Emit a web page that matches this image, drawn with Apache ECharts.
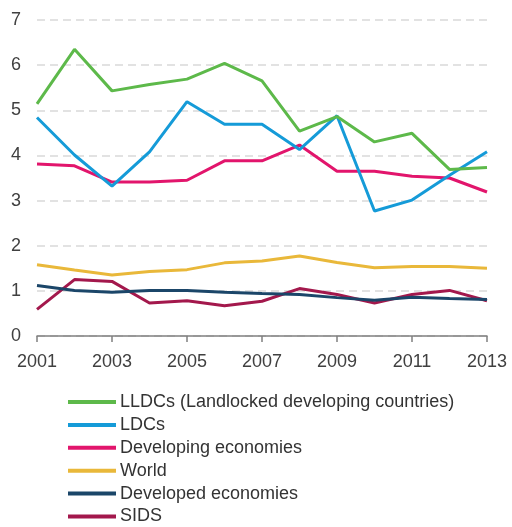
<!DOCTYPE html>
<html>
<head>
<meta charset="utf-8">
<script src="https://cdn.jsdelivr.net/npm/echarts@6/dist/echarts.min.js"></script>
<style>
  html, body { margin: 0; padding: 0; background: #fff; }
  #chart { width: 512px; height: 527px; }
</style>
</head>
<body>
<div id="chart"></div>
<script>
// Years on the horizontal axis
const years = ['2001','2002','2003','2004','2005','2006','2007','2008','2009','2010','2011','2012','2013'];

// Series values per year
const lldcs      = [5.14, 6.35, 5.43, 5.57, 5.69, 6.04, 5.65, 4.54, 4.86, 4.30, 4.49, 3.69, 3.73];
const ldcs       = [4.84, 4.01, 3.32, 4.08, 5.19, 4.69, 4.69, 4.13, 4.88, 2.77, 3.01, 3.56, 4.08];
const developing = [3.81, 3.77, 3.41, 3.41, 3.45, 3.88, 3.88, 4.23, 3.65, 3.65, 3.54, 3.50, 3.19];
const world      = [1.58, 1.46, 1.35, 1.43, 1.47, 1.62, 1.66, 1.77, 1.63, 1.51, 1.54, 1.54, 1.50];
const developed  = [1.12, 1.01, 0.97, 1.01, 1.01, 0.97, 0.94, 0.92, 0.85, 0.79, 0.86, 0.83, 0.81];
const sids       = [0.59, 1.25, 1.21, 0.73, 0.78, 0.67, 0.77, 1.05, 0.92, 0.73, 0.92, 1.01, 0.78];

const seriesNames = [
  'LLDCs (Landlocked developing countries)',
  'LDCs',
  'Developing economies',
  'World',
  'Developed economies',
  'SIDS'
];
const seriesData = [lldcs, ldcs, developing, world, developed, sids];
const colors = ['#5db94a', '#159bd8', '#e2156c', '#e9b83a', '#1b4669', '#a3184c'];

const chart = echarts.init(document.getElementById('chart'), null, { renderer: 'canvas' });

chart.setOption({
  animation: false,
  textStyle: { fontFamily: 'Liberation Sans, Arial, sans-serif' },
  grid: { left: 37, right: 25, top: 20, bottom: 191, containLabel: false },
  legend: {
    orient: 'vertical',
    left: 68,
    top: 393,
    height: 134,
    padding: 0,
    itemWidth: 48,
    itemHeight: 4,
    itemGap: 4.9,
    icon: 'rect',
    textStyle: { fontSize: 18, color: '#333', padding: [0, 0, 0, -1], lineHeight: 18 },
    data: seriesNames
  },
  xAxis: {
    type: 'category',
    data: years,
    boundaryGap: false,
    axisLine: { lineStyle: { color: '#808080', width: 1.5 } },
    axisTick: { show: true, interval: 1, length: 6, lineStyle: { color: '#808080', width: 1.5 } },
    axisLabel: { interval: 1, fontSize: 18, color: '#404040', margin: 17 },
    splitLine: { show: false }
  },
  yAxis: {
    type: 'value',
    min: 0,
    max: 7,
    interval: 1,
    axisLine: { show: false },
    axisTick: { show: false },
    axisLabel: { fontSize: 18, color: '#404040', margin: 16 },
    splitLine: { show: true, lineStyle: { color: '#d9d9d9', width: 1.5, type: [8, 5] } }
  },
  series: seriesNames.map((name, i) => ({
    name: name,
    type: 'line',
    data: seriesData[i],
    symbol: 'none',
    lineStyle: { color: colors[i], width: 3 },
    itemStyle: { color: colors[i] },
    z: 10 - i
  }))
});
</script>
</body>
</html>
